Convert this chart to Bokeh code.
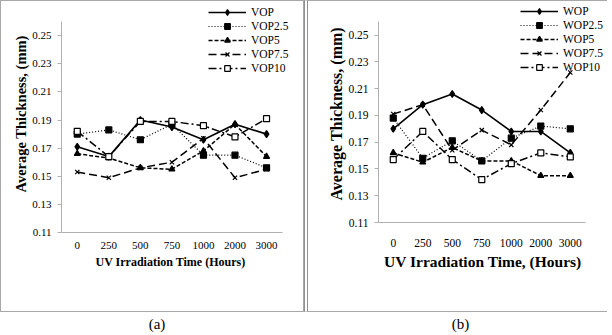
from bokeh.plotting import figure
from bokeh.models import (Legend, LegendItem, Div, FixedTicker, PrintfTickFormatter,
                          Title)
from bokeh.layouts import row, column
from bokeh.embed import file_html
from bokeh.resources import INLINE

hours = ["0", "250", "500", "750", "1000", "2000", "3000"]
y_ticks = [0.11, 0.13, 0.15, 0.17, 0.19, 0.21, 0.23, 0.25]
Y_MIN, Y_MAX = 0.11, 0.26

vop_names = ["VOP", "VOP2.5", "VOP5", "VOP7.5", "VOP10"]
vop = [0.171, 0.164, 0.190, 0.185, 0.176, 0.187, 0.180]
vop25 = [0.180, 0.183, 0.176, 0.187, 0.165, 0.165, 0.156]
vop5 = [0.166, 0.163, 0.156, 0.155, 0.168, 0.187, 0.164]
vop75 = [0.153, 0.149, 0.156, 0.160, 0.177, 0.149, 0.155]
vop10 = [0.182, 0.164, 0.189, 0.189, 0.186, 0.178, 0.191]

wop_names = ["WOP", "WOP2.5", "WOP5", "WOP7.5", "WOP10"]
wop = [0.180, 0.198, 0.206, 0.194, 0.178, 0.178, 0.162]
wop25 = [0.188, 0.158, 0.171, 0.156, 0.173, 0.182, 0.180]
wop5 = [0.162, 0.155, 0.166, 0.156, 0.156, 0.145, 0.145]
wop75 = [0.191, 0.198, 0.164, 0.179, 0.168, 0.194, 0.222]
wop10 = [0.157, 0.178, 0.157, 0.142, 0.154, 0.162, 0.159]

FONT = "Liberation Serif"
AXIS_GREY = "#b0b0b0"
STYLES = [
    dict(dash="solid", width=1.6, marker="diamond", size=7, fill="black"),
    dict(dash="1 2", width=1.2, marker="square", size=6, fill="black"),
    dict(dash="4 2", width=1.5, marker="triangle", size=6, fill="black"),
    dict(dash="8 4", width=1.5, marker="x", size=6, fill="black"),
    dict(dash="8 3 2 3", width=1.5, marker="square", size=6, fill="white"),
]


def panel(names, series, fw, fh, bl, extra_r, extra_t, bb, xtitle, xt_size,
          yt_size, tick_size, ylab_stand, xlab_stand, xtitle_stand, leg_x, leg_y,
          xt_off, yt_off, css):
    n = len(hours)
    xs = list(range(n))
    # the frame is extended up and right so that the legend is not clipped;
    # axis bounds keep the axes on the data area of the original chart
    x_end = -0.5 + n * (fw + extra_r) / fw
    y_end = Y_MIN + (Y_MAX - Y_MIN) * (fh + extra_t) / fh
    p = figure(frame_width=fw + extra_r, frame_height=fh + extra_t,
               x_range=(-0.5, x_end), y_range=(Y_MIN, y_end),
               output_backend="svg", toolbar_location=None,
               min_border_left=bl, min_border_right=0,
               min_border_top=0, min_border_bottom=bb)
    p.outline_line_color = None
    p.grid.visible = False
    p.background_fill_color = "white"
    p.border_fill_color = "white"
    items = []
    for name, ys, st in zip(names, series, STYLES):
        l = p.line(xs, ys, line_color="black", line_width=st["width"],
                   line_dash=st["dash"])
        s = p.scatter(xs, ys, marker=st["marker"], size=st["size"],
                      line_color="black", fill_color=st["fill"], line_width=1.2)
        items.append(LegendItem(label=name, renderers=[l, s]))
    for ax in (p.xaxis[0], p.yaxis[0]):
        ax.axis_line_color = AXIS_GREY
        ax.major_label_text_font = FONT
        ax.major_label_text_color = "black"
        ax.major_label_text_font_size = tick_size
        ax.minor_tick_line_color = None
    p.xaxis.bounds = (-0.5, n - 0.5)
    p.xaxis.ticker = FixedTicker(ticks=xs)
    p.xaxis.major_label_overrides = {i: h for i, h in zip(xs, hours)}
    p.xaxis.major_tick_line_color = None
    p.xaxis.major_label_standoff = xlab_stand
    p.yaxis.bounds = (Y_MIN, Y_MAX)
    p.yaxis.ticker = FixedTicker(ticks=y_ticks)
    p.yaxis.formatter = PrintfTickFormatter(format="%.2f")
    p.yaxis.major_tick_line_color = AXIS_GREY
    p.yaxis.major_tick_out = 4
    p.yaxis.major_tick_in = 0
    p.yaxis.major_label_standoff = 6
    # axis titles placed over the data area (not centred on the extended frame)
    p.add_layout(Title(text=xtitle, align="left", offset=xt_off,
                       standoff=xtitle_stand, text_font=FONT,
                       text_font_style="bold", text_font_size=xt_size,
                       text_color="black"), "below")
    p.add_layout(Title(text="Average Thickness, (mm)", align="left",
                       offset=yt_off, standoff=ylab_stand, text_font=FONT,
                       text_font_style="bold", text_font_size=yt_size,
                       text_color="black"), "left")
    leg = Legend(items=items, location=(leg_x, leg_y), glyph_width=38,
                 glyph_height=14, label_height=14, label_standoff=5, spacing=0,
                 padding=0, margin=0, border_line_color=None,
                 background_fill_alpha=0, label_text_font=FONT,
                 label_text_font_size="11.5px", label_text_line_height=1.0,
                 label_text_color="black")
    p.add_layout(leg)
    p.styles = css
    return p


pa = panel(vop_names, [vop, vop25, vop5, vop75, vop10], 219, 209, 60, 23, 20, 81,
           "UV Irradiation Time (Hours)", "12px", "14.5px", "11px", 1, 3, 2,
           147, 157, 34, 40, {"border": "1px solid #a8a8a8"})
pb = panel(wop_names, [wop, wop25, wop5, wop75, wop10], 203, 199, 70, 26, 20, 91,
           "UV Irradiation Time, (Hours)", "15.5px", "16px", "11.5px", 2, 10, 2,
           142, 148, 5.5, 22,
           {"border-top": "1px solid #a8a8a8", "border-bottom": "1px solid #a8a8a8",
            "border-left": "4px double #909090"})

cap_style = {"font-family": FONT, "font-size": "15px", "text-align": "center",
             "width": "100%", "line-height": "15px"}
ca = Div(text="(a)", width=302, height=15, styles=cap_style)
cb = Div(text="(b)", width=299, height=15, styles=cap_style)

layout = row(column(pa, ca, spacing=0), column(pb, cb, spacing=0), spacing=0)
open("out.html", "w").write(file_html(layout, INLINE))
